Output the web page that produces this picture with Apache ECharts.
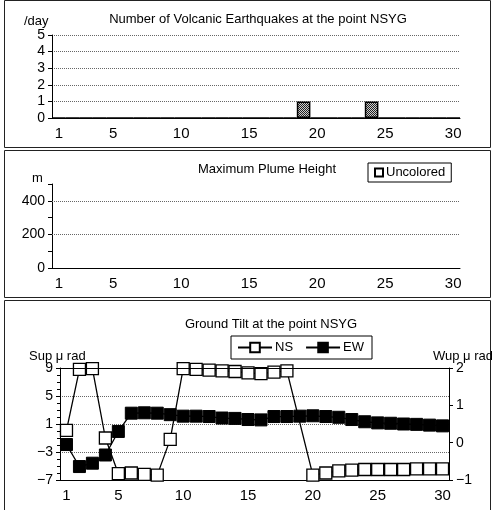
<!DOCTYPE html>
<html>
<head>
<meta charset="utf-8">
<script src="https://cdn.jsdelivr.net/npm/echarts@6/dist/echarts.min.js"></script>
<style>
  html, body { margin: 0; padding: 0; background: #fff; }
  #chart { width: 492px; height: 510px; }
</style>
</head>
<body>
<div id="chart"></div>
<script>
// days of the month
const days = ['1', '2', '3', '4', '5', '6', '7', '8', '9', '10',
  '11', '12', '13', '14', '15', '16', '17', '18', '19', '20',
  '21', '22', '23', '24', '25', '26', '27', '28', '29', '30']

// volcanic earthquakes per day
const quakes = [0, 0, 0, 0, 0, 0, 0, 0, 0, 0,
  0, 0, 0, 0, 0, 0, 0, 0, 1, 0,
  0, 0, 0, 1, 0, 0, 0, 0, 0, 0]

// plume height (none observed)
const plume = [null, null, null, null, null, null, null, null, null, null,
  null, null, null, null, null, null, null, null, null, null,
  null, null, null, null, null, null, null, null, null, null]

// tilt, micro rad
const tiltNS = [0.1, 8.8, 8.9, -1.0, -6.1, -6.0, -6.2, -6.3, -1.2, 8.9,
  8.8, 8.7, 8.6, 8.5, 8.3, 8.2, 8.4, 8.6, null, -6.3,
  -6.0, -5.7, -5.6, -5.5, -5.5, -5.5, -5.5, -5.4, -5.4, -5.4]
const tiltEW = [-0.05, -0.64, -0.55, -0.33, 0.30, 0.79, 0.80, 0.79, 0.75, 0.71,
  0.71, 0.70, 0.66, 0.65, 0.62, 0.61, 0.70, 0.70, 0.71, 0.72,
  0.70, 0.68, 0.62, 0.56, 0.53, 0.52, 0.50, 0.49, 0.47, 0.45]

const FONT = '"Liberation Sans", Arial, sans-serif'

// grey dotted fill for the quake bars
const pat = document.createElement('canvas')
pat.width = 2
pat.height = 2
const pctx = pat.getContext('2d')
pctx.fillStyle = '#ccc'
pctx.fillRect(0, 0, 2, 2)
pctx.fillStyle = '#222'
pctx.fillRect(0, 0, 1, 1)
pctx.fillRect(1, 1, 1, 1)

const dayLabel = (i) => i === 0 || (i + 1) % 5 === 0

const xAxisBase = (gridIndex) => ({
  type: 'category',
  gridIndex,
  data: days,
  boundaryGap: true,
  axisLine: { onZero: false, lineStyle: { color: '#000', width: 1 } },
  axisTick: { interval: 0, length: 4, lineStyle: { color: '#000' } },
  axisLabel: { interval: dayLabel, color: '#000', fontSize: 15, fontFamily: FONT, margin: 8 },
  splitLine: { show: false },
})

const yTick = { length: 4, lineStyle: { color: '#000' } }
const yLabel = { color: '#000', fontSize: 14, fontFamily: FONT, margin: 7 }
const dotted = { color: '#666', type: 'dotted', width: 1 }
const minus = (v) => (v < 0 ? '\u2212' + Math.abs(v) : v)

const chart = echarts.init(document.getElementById('chart'), null, { renderer: 'canvas' })

const option = {
  backgroundColor: '#fff',
  animation: false,
  textStyle: { fontFamily: FONT },
  title: [
    { text: 'Number of Volcanic Earthquakes at the point NSYG', left: 253, top: 8, textAlign: 'center',
      textStyle: { fontSize: 13, fontWeight: 'normal', color: '#000' } },
    { text: '/day', left: 19, top: 10, textStyle: { fontSize: 13, fontWeight: 'normal', color: '#000' } },
    { text: 'Maximum Plume Height', left: 262, top: 158, textAlign: 'center',
      textStyle: { fontSize: 13, fontWeight: 'normal', color: '#000' } },
    { text: 'm', left: 27, top: 167, textStyle: { fontSize: 13, fontWeight: 'normal', color: '#000' } },
    { text: 'Ground Tilt at the point NSYG', left: 266, top: 313, textAlign: 'center',
      textStyle: { fontSize: 13, fontWeight: 'normal', color: '#000' } },
    { text: 'Sup μ rad', left: 24, top: 345, textStyle: { fontSize: 13, fontWeight: 'normal', color: '#000' } },
    { text: 'Wup μ rad', left: 428, top: 345, textStyle: { fontSize: 13, fontWeight: 'normal', color: '#000' } },
  ],
  legend: [
    {
      data: [{ name: 'Uncolored', icon: 'rect' }],
      left: 368, top: 163,
      itemWidth: 8, itemHeight: 8, itemGap: 4,
      padding: [3, 6, 3, 6],
      borderColor: '#000', borderWidth: 1,
      textStyle: { fontSize: 13, color: '#000', padding: [0, 0, 0, -2] },
    },
    {
      data: ['NS', 'EW'],
      left: 231, top: 336,
      itemWidth: 34, itemHeight: 12, itemGap: 12,
      padding: [5, 8, 5, 6],
      borderColor: '#000', borderWidth: 1,
      textStyle: { fontSize: 13, color: '#000', padding: [0, 0, 0, -2] },
    },
  ],
  grid: [
    { left: 52, top: 35, width: 408, height: 83 },
    { left: 52, top: 184, width: 408, height: 84 },
    { left: 60, top: 368, width: 389, height: 112 },
  ],
  xAxis: [xAxisBase(0), xAxisBase(1), xAxisBase(2)],
  yAxis: [
    {
      type: 'value', gridIndex: 0, min: 0, max: 5, interval: 1,
      axisLine: { show: true, lineStyle: { color: '#000' } },
      axisTick: { show: true, ...yTick },
      axisLabel: yLabel,
      splitLine: { show: true, lineStyle: dotted },
    },
    {
      type: 'value', gridIndex: 1, min: 0, max: 500, interval: 100,
      axisLine: { show: true, lineStyle: { color: '#000' } },
      axisTick: { show: true, ...yTick },
      axisLabel: { ...yLabel, formatter: (v) => (v % 200 === 0 && v < 500 ? v : '') },
      splitLine: { show: false },
    },
    {
      type: 'value', gridIndex: 2, min: -7, max: 9, interval: 4,
      axisLine: { show: true, lineStyle: { color: '#000' } },
      axisTick: { show: true, ...yTick },
      minorTick: { show: true, splitNumber: 4, length: 3, lineStyle: { color: '#000' } },
      axisLabel: { ...yLabel, formatter: minus },
      splitLine: { show: true, lineStyle: dotted },
    },
    {
      type: 'value', gridIndex: 2, position: 'right', min: -1, max: 2, interval: 1,
      axisLine: { show: true, lineStyle: { color: '#000' } },
      axisTick: { show: true, ...yTick },
      axisLabel: { ...yLabel, formatter: minus },
      splitLine: { show: false },
    },
  ],
  series: [
    {
      name: 'Earthquakes',
      type: 'bar',
      xAxisIndex: 0, yAxisIndex: 0,
      data: quakes,
      barCategoryGap: '0%',
      itemStyle: { color: { image: pat, repeat: 'repeat' }, borderColor: '#000', borderWidth: 1.5 },
    },
    {
      name: 'Uncolored',
      type: 'bar',
      xAxisIndex: 1, yAxisIndex: 1,
      data: plume,
      itemStyle: { color: '#fff', borderColor: '#000', borderWidth: 1.5 },
      markLine: {
        silent: true, symbol: 'none', label: { show: false },
        lineStyle: dotted,
        data: [{ yAxis: 200 }, { yAxis: 400 }],
      },
    },
    {
      name: 'NS',
      type: 'line',
      xAxisIndex: 2, yAxisIndex: 2,
      data: tiltNS,
      connectNulls: true,
      showAllSymbol: true,
      symbol: 'rect', symbolSize: 12,
      lineStyle: { color: '#000', width: 1.3 },
      itemStyle: { color: '#fff', borderColor: '#000', borderWidth: 1.3 },
      markLine: {
        silent: true, symbol: 'none', label: { show: false },
        lineStyle: { color: '#000', type: 'solid', width: 1 },
        data: [{ yAxis: 9 }],
      },
    },
    {
      name: 'EW',
      type: 'line',
      xAxisIndex: 2, yAxisIndex: 3,
      data: tiltEW,
      showAllSymbol: true,
      symbol: 'rect', symbolSize: 12,
      lineStyle: { color: '#000', width: 1.3 },
      itemStyle: { color: '#000', borderColor: '#000', borderWidth: 1 },
    },
  ],
  graphic: [
    { type: 'rect', shape: { x: 4.5, y: 0.5, width: 486, height: 147 }, style: { fill: null, stroke: '#222', lineWidth: 1 }, silent: true },
    { type: 'rect', shape: { x: 4.5, y: 150.5, width: 486, height: 147 }, style: { fill: null, stroke: '#222', lineWidth: 1 }, silent: true },
    { type: 'rect', shape: { x: 4.5, y: 300.5, width: 486, height: 215 }, style: { fill: null, stroke: '#222', lineWidth: 1 }, silent: true },
  ],
}

chart.setOption(option)
</script>
</body>
</html>
